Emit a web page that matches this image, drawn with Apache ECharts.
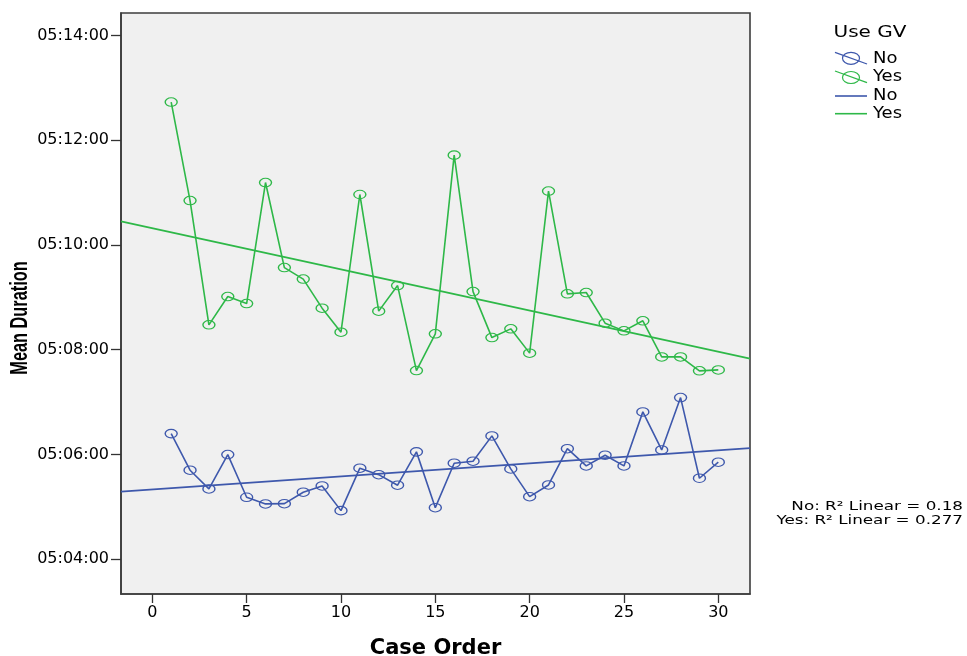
<!DOCTYPE html>
<html>
<head>
<meta charset="utf-8">
<script src="https://cdn.jsdelivr.net/npm/echarts@6/dist/echarts.min.js"></script>
<style>
html,body{margin:0;padding:0;background:#fff;}
#chart{width:967px;height:656px;}
</style>
</head>
<body>
<div id="chart"></div>
<script>
// Case order (x)
var caseOrder = [1,2,3,4,5,6,7,8,9,10,11,12,13,14,15,16,17,18,19,20,21,22,23,24,25,26,27,28,29,30];
// Mean duration, seconds after 05:00:00
var yesValues = [763.7,650.9,508.5,540.9,532.9,671.5,574.1,560.9,527.6,500.1,657.8,524.2,553.5,456.1,498.2,702.9,546.6,493.9,503.9,476.1,661.7,544,545.5,510.4,501.6,513.1,471.8,471.8,455.8,456.9];
var noValues  = [383.9,342,320.6,359.9,311,303.4,303.7,316.8,324,295.7,344.3,336.9,324.8,363,299.1,350,352.3,381.3,343.5,311.7,325.1,366.7,346.9,359.2,346.9,408.8,365.2,425.2,332.8,351.2];
// Linear fit lines (read at the plot edges)
var fitX   = [-1.66, 31.68];
var fitYes = [627.1, 469.8];
var fitNo  = [317.4, 367.3];
// Tick values
var xTicks = [0,5,10,15,20,25,30];
var yTicks = [240,360,480,600,720,840];
var legendTitle = 'Use GV';
var groupNames = ['No','Yes'];
var r2Labels = ['No: R\u00b2 Linear = 0.18','Yes: R\u00b2 Linear = 0.277'];

var BLUE = '#3e58ac', GREEN = '#2eb848';

function pairs(xs, ys){ return xs.map(function(x,i){ return [x, ys[i]]; }); }
function fmt(v){
  var t = Math.round(v);
  var m = Math.floor(t/60), s = t%60;
  return '05:' + (m<10?'0':'') + m + ':' + (s<10?'0':'') + s;
}

var chart = echarts.init(document.getElementById('chart'));
var lineSeries = function(name, data, color){
  return {
    name: name, type: 'line', data: data,
    symbol: 'circle', symbolSize: [12, 8.5],
    itemStyle: {color: 'rgba(0,0,0,0)', borderColor: color, borderWidth: 1.2},
    lineStyle: {color: color, width: 1.6},
    emphasis: {disabled: true}, animation: false, z: 3
  };
};
var fitSeries = function(name, data, color){
  return {
    name: name, type: 'line', data: data, symbol: 'none',
    lineStyle: {color: color, width: 1.8}, animation: false, z: 2
  };
};

var legendGraphics = [
  {type:'text', x:870, y:33, scaleX:1.25, style:{text:legendTitle, font:'16px "DejaVu Sans"', fill:'#000', textAlign:'center', textVerticalAlign:'middle'}},
  {type:'line', shape:{x1:835,y1:52.3,x2:867,y2:64}, style:{stroke:BLUE, lineWidth:1.3}},
  {type:'ellipse', shape:{cx:851,cy:58.3,rx:8.5,ry:6}, style:{stroke:BLUE, fill:'none', lineWidth:1.2}},
  {type:'text', x:873, y:59, scaleX:1.2, style:{text:groupNames[0], font:'15px "DejaVu Sans"', fill:'#000', textAlign:'left', textVerticalAlign:'middle'}},
  {type:'line', shape:{x1:835,y1:71,x2:867,y2:82.7}, style:{stroke:GREEN, lineWidth:1.3}},
  {type:'ellipse', shape:{cx:851,cy:77.5,rx:8.5,ry:6}, style:{stroke:GREEN, fill:'none', lineWidth:1.2}},
  {type:'text', x:873, y:77.5, scaleX:1.2, style:{text:groupNames[1], font:'15px "DejaVu Sans"', fill:'#000', textAlign:'left', textVerticalAlign:'middle'}},
  {type:'line', shape:{x1:835,y1:96,x2:867,y2:96}, style:{stroke:BLUE, lineWidth:1.6}},
  {type:'text', x:873, y:96, scaleX:1.2, style:{text:groupNames[0], font:'15px "DejaVu Sans"', fill:'#000', textAlign:'left', textVerticalAlign:'middle'}},
  {type:'line', shape:{x1:835,y1:113.7,x2:867,y2:113.7}, style:{stroke:GREEN, lineWidth:1.6}},
  {type:'text', x:873, y:114, scaleX:1.2, style:{text:groupNames[1], font:'15px "DejaVu Sans"', fill:'#000', textAlign:'left', textVerticalAlign:'middle'}},
  {type:'text', x:963, y:507, scaleX:1.29, style:{text:r2Labels[0], font:'13px "DejaVu Sans"', fill:'#000', textAlign:'right', textVerticalAlign:'middle'}},
  {type:'text', x:963, y:521, scaleX:1.29, style:{text:r2Labels[1], font:'13px "DejaVu Sans"', fill:'#000', textAlign:'right', textVerticalAlign:'middle'}},
  {type:'text', x:20.5, y:318, rotation:Math.PI/2, scaleX:0.68, style:{text:'Mean Duration', font:'bold 24px "Liberation Sans"', fill:'#000', textAlign:'center', textVerticalAlign:'middle'}}
];

chart.setOption({
  backgroundColor: '#ffffff',
  animation: false,
  grid: {left:121, top:13, right:217, bottom:62, containLabel:false, outerBoundsMode:'none', show:true, backgroundColor:'#f0f0f0', borderColor:'#3c3c3c', borderWidth:1.6},
  xAxis: {
    type:'value', min:-1.66, max:31.68,
    name:'Case Order', nameLocation:'middle', nameGap:44,
    nameTextStyle:{fontFamily:'DejaVu Sans', fontWeight:'bold', fontSize:21, color:'#000'},
    axisLine:{show:true, onZero:false, lineStyle:{color:'#3c3c3c', width:1.6}},
    axisTick:{show:true, length:9, lineStyle:{color:'#333', width:1.3}, customValues: xTicks},
    axisLabel:{color:'#000', fontFamily:'DejaVu Sans', fontSize:16, margin:11, customValues: xTicks},
    splitLine:{show:false}
  },
  yAxis: {
    type:'value', min:200.2, max:865.7,
    axisLine:{show:true, onZero:false, lineStyle:{color:'#3c3c3c', width:1.6}},
    axisTick:{show:true, length:10, lineStyle:{color:'#333', width:1.3}, customValues: yTicks},
    axisLabel:{color:'#000', fontFamily:'DejaVu Sans', fontSize:16, margin:12, formatter: fmt, customValues: yTicks},
    splitLine:{show:false}
  },
  series: [
    lineSeries('No', pairs(caseOrder, noValues), BLUE),
    lineSeries('Yes', pairs(caseOrder, yesValues), GREEN),
    fitSeries('No fit', pairs(fitX, fitNo), BLUE),
    fitSeries('Yes fit', pairs(fitX, fitYes), GREEN)
  ],
  graphic: legendGraphics
});
</script>
</body>
</html>
